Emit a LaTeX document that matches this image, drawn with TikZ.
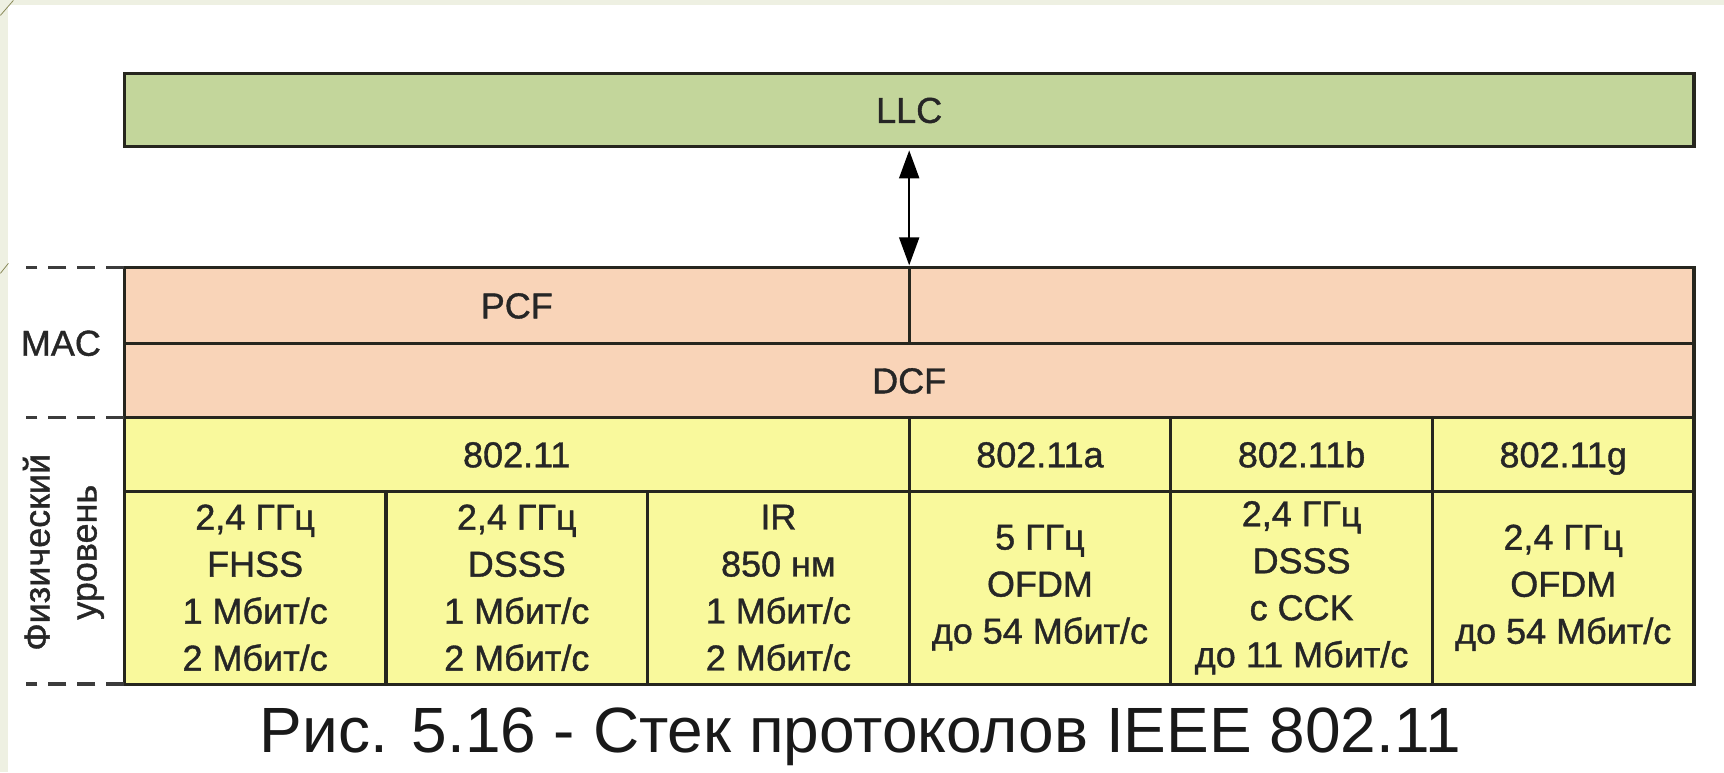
\documentclass[tikz,border=0pt]{standalone}
\usepackage{fontspec}
\setmainfont{Liberation Sans}
\newfontfamily\cellfont{Liberation Sans}[FakeBold=1.1]
\usetikzlibrary{arrows.meta}

\definecolor{llcfill}{HTML}{C3D69B}
\definecolor{macfill}{HTML}{F9D4B8}
\definecolor{phyfill}{HTML}{F9F99C}
\definecolor{edge}{HTML}{26261E}
\definecolor{ink}{HTML}{262626}
\definecolor{slide}{HTML}{EEF0E2}
\definecolor{deco}{HTML}{8A8A5A}
\definecolor{guidegray}{HTML}{3C3C3C}

\begin{document}
\begin{tikzpicture}[x=1pt,y=-1pt,
  box/.style={draw=edge, line width=3.2pt, inner sep=0pt, outer sep=0pt,
    text=ink, font=\cellfont\fontsize{36}{47}\selectfont, align=center},
  oneline/.style={text height=26pt, text depth=0pt},
  llcbox/.style={box, oneline, fill=llcfill, minimum width=1570pt, minimum height=73pt},
  macbox/.style={box, oneline, fill=macfill},
  phyhead/.style={box, oneline, fill=phyfill, minimum height=74pt},
  phycell/.style={box, fill=phyfill, minimum width=261.67pt, minimum height=193pt},
  sidelabel/.style={text=ink, font=\cellfont\fontsize{36}{47}\selectfont, align=center, inner sep=0pt},
  guide/.style={draw=guidegray, line width=3.5pt, dash pattern=on 18pt off 11pt},
  biarrow/.style={draw=black, line width=2pt,
    {Triangle[length=28pt,width=20pt]}-{Triangle[length=28pt,width=20pt]}}
]
% slide background and white panel
\fill[slide] (0,0) rectangle (1724,772);
\fill[white] (8,5) rectangle (1724,772);
\draw[deco, line width=0.8pt] (0,15) -- (13,0);
\draw[deco, line width=0.8pt] (0,273) -- (8,263);
\useasboundingbox (0,0) rectangle (1724,772);

% LLC layer
\node[llcbox] (llc) at (909,109.5) {LLC};

% MAC layer
\node[macbox, minimum width=785pt, minimum height=76pt] (pcf) at (516.5,305) {PCF};
\node[macbox, minimum width=785pt, minimum height=76pt] (pcfr) at (1301.5,305) {};
\node[macbox, minimum width=1570pt, minimum height=74pt] (dcf) at (909,380) {DCF};

% physical layer: standards
\node[phyhead, minimum width=785pt] (h0) at (516.5,454) {802.11};
\node[phyhead, minimum width=261.67pt] (ha) at (1039.8,454) {802.11a};
\node[phyhead, minimum width=261.67pt] (hb) at (1301.5,454) {802.11b};
\node[phyhead, minimum width=261.67pt] (hg) at (1563.2,454) {802.11g};

% physical layer: transmission methods
\node[phycell] (c1) at (254.8,587.5) {2,4 ГГц\\FHSS\\1 Мбит/с\\2 Мбит/с};
\node[phycell] (c2) at (516.5,587.5) {2,4 ГГц\\DSSS\\1 Мбит/с\\2 Мбит/с};
\node[phycell] (c3) at (778.2,587.5) {IR\\850 нм\\1 Мбит/с\\2 Мбит/с};
\node[phycell] (c4) at (1039.8,587.5) {5 ГГц\\OFDM\\до 54 Мбит/с};
\node[phycell] (c5) at (1301.5,587.5) {2,4 ГГц\\DSSS\\с CCK\\до 11 Мбит/с};
\node[phycell] (c6) at (1563.2,587.5) {2,4 ГГц\\OFDM\\до 54 Мбит/с};

% LLC <-> MAC
\draw[biarrow] ([yshift=-4pt]llc.south) -- ([yshift=2pt]pcf.north east);

% layer boundaries on the left
\coordinate (d1) at (26,267);
\coordinate (d2) at (26,417);
\coordinate (d3) at (26,684);
\draw[guide] (pcf.north west) -- (d1);
\draw[guide] (dcf.south west) -- (d2);
\draw[guide] (c1.south west) -- (d3);

% layer names
\node[sidelabel] (maclabel) at (60.5,343) {MAC};
\node[sidelabel, rotate=90] (phylabel) at (63,552) {Физический\\уровень};

% caption
\node[anchor=base, inner sep=0pt, text=black!90, font=\fontsize{64}{70}\selectfont]
  (caption) at (860,752) {Рис. 5.16 - Стек протоколов IEEE 802.11};
\end{tikzpicture}
\end{document}
